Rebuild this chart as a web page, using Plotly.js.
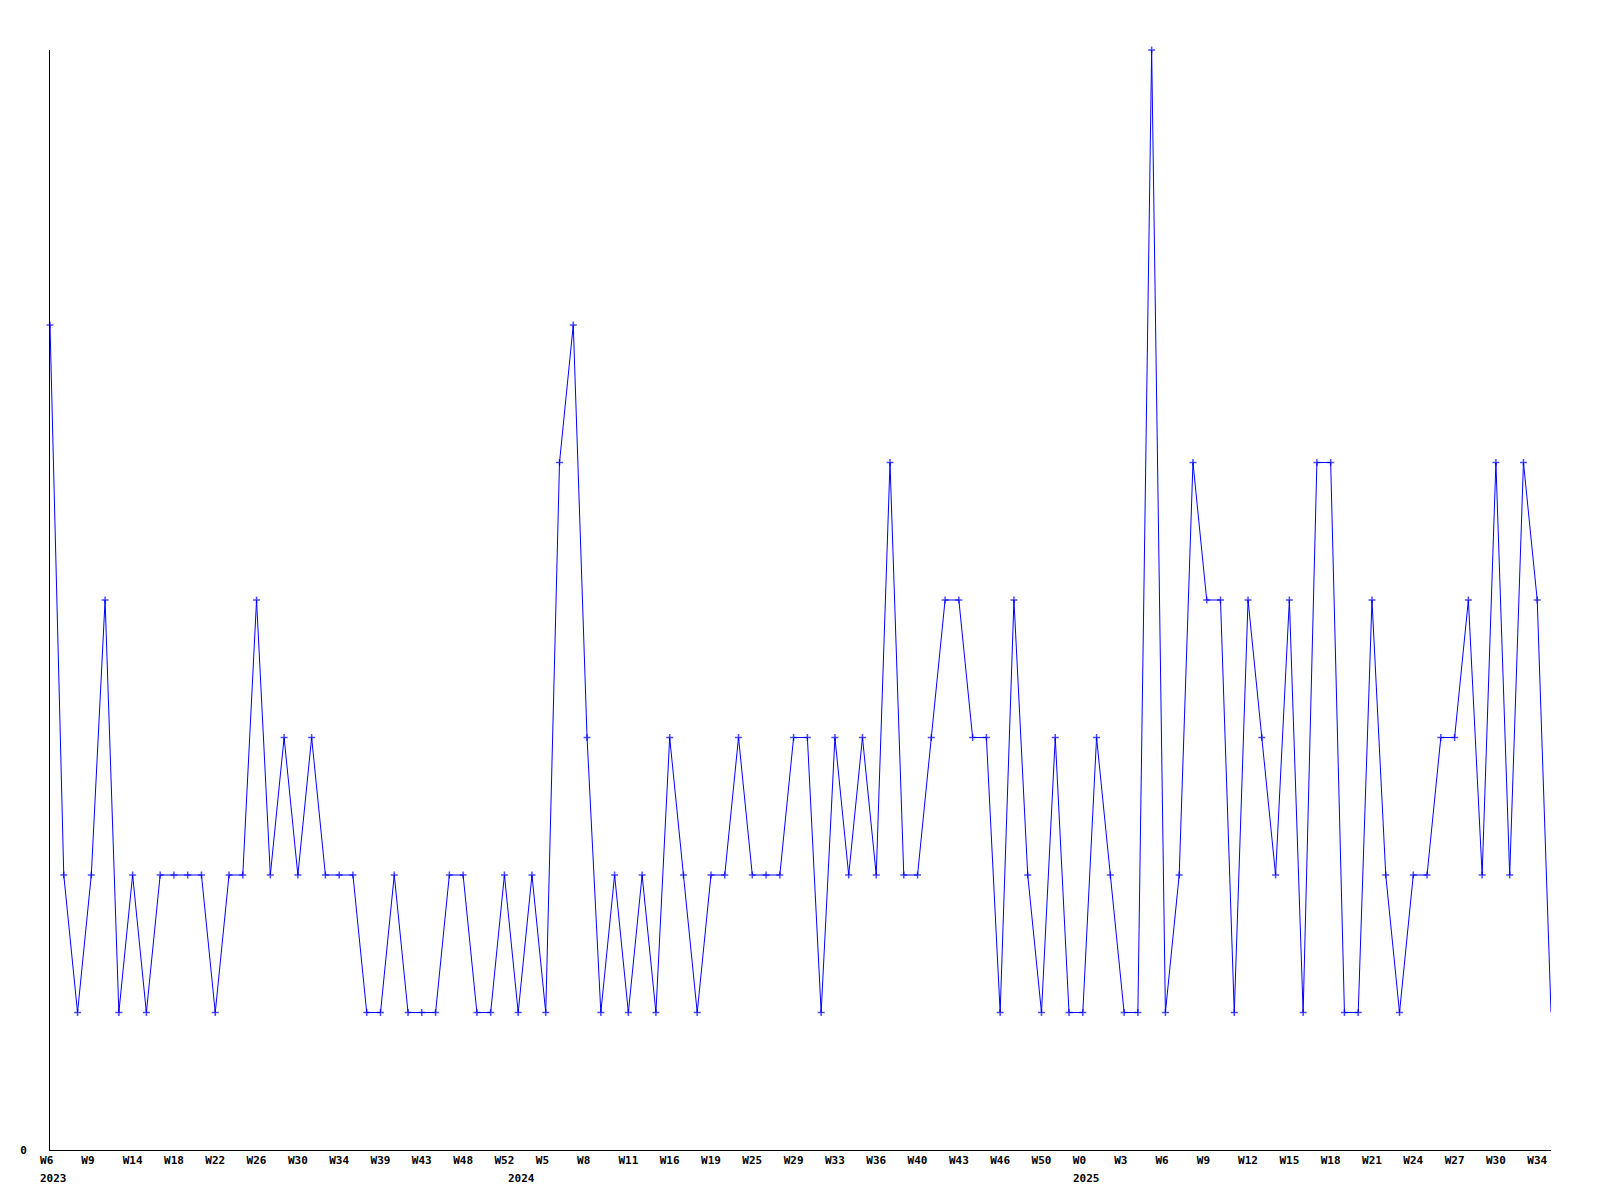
<!DOCTYPE html>
<html>
<head>
<meta charset="utf-8">
<script src="https://cdn.plot.ly/plotly-3.0.1.min.js"></script>
<style>html,body{margin:0;padding:0;background:#fff;}#chart{width:1600px;height:1200px;}</style>
</head>
<body>
<div id="chart"></div>
<script>
// Weekly values, one per data point (110 points)
const weeklyCounts = [
  6,2,1,2,4,1,2,1,2,2,
  2,2,1,2,2,4,2,3,2,3,
  2,2,2,1,1,2,1,1,1,2,
  2,1,1,2,1,2,1,5,6,3,
  1,2,1,2,1,3,2,1,2,2,
  3,2,2,2,3,3,1,3,2,3,
  2,5,2,2,3,4,4,3,3,1,
  4,2,1,3,1,1,3,2,1,1,
  8,1,2,5,4,4,1,4,3,2,
  4,1,5,5,1,1,4,2,1,2,
  2,3,3,4,2,5,2,5,4,1
];
// Tick labels shown on every third point
const weekTickLabels = ['W6','W9','W14','W18','W22','W26','W30','W34','W39','W43','W48','W52','W5','W8','W11','W16','W19','W25','W29','W33','W36','W40','W43','W46','W50','W0','W3','W6','W9','W12','W15','W18','W21','W24','W27','W30','W34'];
// Year labels and the point index where each year starts
const yearLabels = ['2023','2024','2025'];
const yearStartIndex = [0, 34, 75];

const n = weeklyCounts.length;
const xIdx = weeklyCounts.map((_, i) => i);
const tickStep = 3;
const tickvals = weekTickLabels.map((_, i) => i * tickStep);
const ticktext = weekTickLabels.map(t => t.length < 3 ? t + '\u00a0' : t);
const markerSizes = weeklyCounts.map((_, i) => i === n - 1 ? 0 : 5);

const fontFam = '"DejaVu Sans Mono", "Liberation Mono", monospace';

const trace = {
  x: xIdx,
  y: weeklyCounts,
  type: 'scatter',
  mode: 'lines+markers',
  line: {color: '#0000ff', width: 1},
  marker: {symbol: 'cross-thin', size: markerSizes, color: '#0000ff', line: {color: '#0000ff', width: 1.5}},
  cliponaxis: false,
  hoverinfo: 'x+y'
};

const annotations = yearLabels.map((t, i) => ({
  x: yearStartIndex[i], xref: 'x',
  y: 0, yref: 'paper',
  text: t, showarrow: false,
  xanchor: 'left', yanchor: 'top',
  xshift: -12, yshift: -20,
  font: {family: fontFam, size: 11, color: '#000', weight: 'bold'}
}));

const layout = {
  width: 1600, height: 1200,
  paper_bgcolor: '#fff', plot_bgcolor: '#fff',
  margin: {l: 50, r: 49, t: 50, b: 50},
  showlegend: false,
  xaxis: {
    range: [0, n - 1],
    showline: true, linecolor: '#000', linewidth: 1,
    showgrid: false, zeroline: false, ticks: '',
    tickmode: 'array', tickvals: tickvals, ticktext: ticktext,
    tickangle: 0,
    tickfont: {family: fontFam, size: 11, color: '#000', weight: 'bold'}
  },
  yaxis: {
    range: [0, 8],
    showline: true, linecolor: '#000', linewidth: 1,
    showgrid: false, zeroline: false, ticks: '',
    tickmode: 'array', tickvals: [0], ticktext: ['0'],
    ticklabelstandoff: 20,
    tickfont: {family: fontFam, size: 11, color: '#000', weight: 'bold'}
  },
  annotations: annotations
};

Plotly.newPlot('chart', [trace], layout, {displayModeBar: false, staticPlot: true});
</script>
</body>
</html>
